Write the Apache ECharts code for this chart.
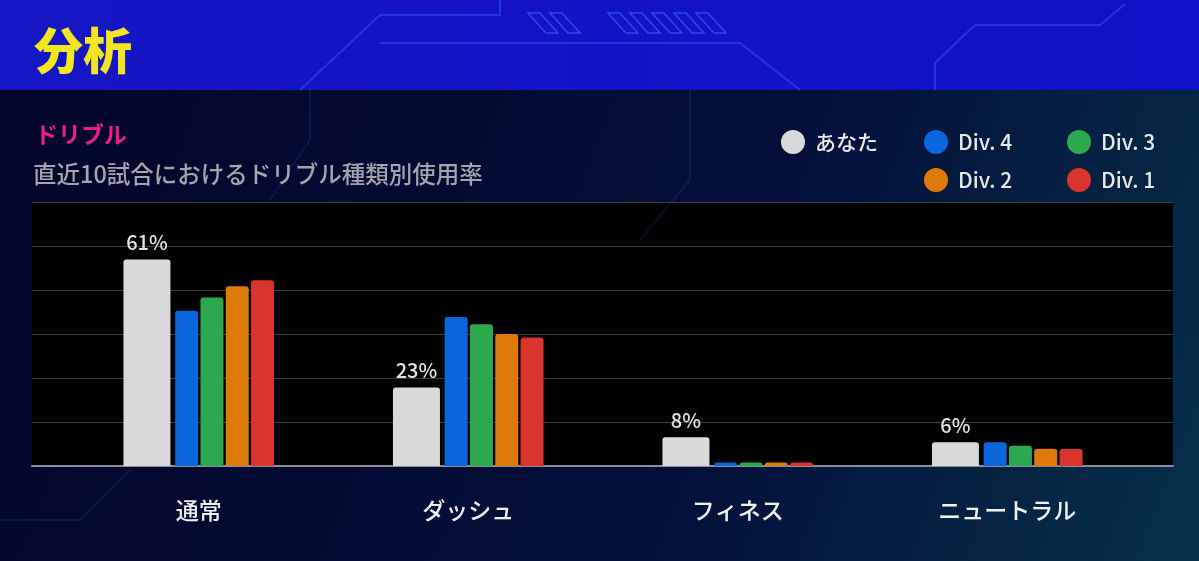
<!DOCTYPE html>
<html lang="ja" style="height: 100%">
<head>
    <meta charset="UTF-8">
    <title>分析 - ドリブル</title>
</head>
<body style="height: 100%; margin: 0">
<div id="container" style="width: 1199px; height: 561px"></div>
<script src="https://cdn.jsdelivr.net/npm/echarts/dist/echarts.min.js"></script>
<script>
    // 値（%）は画像から読み取り
    var categories = ['通常', 'ダッシュ', 'フィネス', 'ニュートラル'];
    var seriesNames = ['あなた', 'Div. 4', 'Div. 3', 'Div. 2', 'Div. 1'];
    var youValues = [61, 23.2, 8.5, 7];
    var youLabels = ['61%', '23%', '8%', '6%'];
    var div4Values = [45.9, 44, 1, 7];
    var div3Values = [49.8, 41.9, 1, 6];
    var div2Values = [53.1, 39, 1, 5.1];
    var div1Values = [54.9, 38, 1, 5];
    var barColors = ['#d9d9d9', '#0a66dd', '#2ca84e', '#dd7a0a', '#d9352c'];

    var font = '"Noto Sans CJK JP", "Noto Sans", sans-serif';
    var chart = echarts.init(document.getElementById('container'));

    function bar(idx, values, width) {
        var s = {
            name: seriesNames[idx],
            type: 'bar',
            xAxisIndex: 1,
            yAxisIndex: 1,
            data: values,
            barWidth: width,
            barGap: '10%',
            itemStyle: {color: barColors[idx], borderRadius: [3, 3, 0, 0]}
        };
        if (idx === 0) {
            s.label = {
                show: true,
                position: 'top',
                distance: 7,
                color: '#e2e2e2',
                fontSize: 20,
                fontWeight: 500,
                fontFamily: font,
                formatter: function (p) { return youLabels[p.dataIndex]; }
            };
        }
        return s;
    }

    // 凡例：1項目ずつ位置指定（円の中心座標）
    var legendPos = [[788, 137], [931, 137], [1074, 137], [931, 175], [1074, 175]];
    var legends = seriesNames.map(function (name, i) {
        return {
            data: [name],
            left: legendPos[i][0] - 12,
            top: legendPos[i][1] - 12,
            icon: 'circle',
            itemWidth: 24, itemHeight: 24,
            textStyle: {color: '#e8e8e8', fontSize: 21, fontWeight: 500, fontFamily: font, padding: [0, 0, 0, 5]}
        };
    });

    // 背景の回路っぽい線
    var circuitTop = [
        [[380, 43], [740, 43], [800, 90]],
        [[300, 90], [380, 15], [500, 15], [500, 0]],
        [[935, 90], [935, 63], [975, 25], [1100, 25], [1125, 4]]
    ];
    var circuitLow = [
        [[690, 90], [690, 180], [640, 240]],
        [[0, 520], [80, 520], [130, 470]],
        [[310, 90], [310, 140], [270, 200]]
    ];
    var decor = circuitTop.map(function (pts) {
        return {
            type: 'polyline', silent: true,
            shape: {points: pts},
            style: {stroke: 'rgba(60,120,255,0.35)', lineWidth: 2, fill: null}
        };
    }).concat(circuitLow.map(function (pts) {
        return {
            type: 'polyline', silent: true,
            shape: {points: pts},
            style: {stroke: 'rgba(60,120,255,0.12)', lineWidth: 2, fill: null}
        };
    }));
    for (var i = 0; i < 7; i++) {
        var x0 = 528 + (i < 2 ? i * 22 : 80 + (i - 2) * 22);
        decor.push({
            type: 'polygon', silent: true,
            shape: {points: [[x0, 13], [x0 + 12, 13], [x0 + 30, 33], [x0 + 18, 33]]},
            style: {stroke: 'rgba(70,130,255,0.5)', lineWidth: 1.5, fill: null}
        });
    }

    var option = {
        backgroundColor: '#050a2e',
        graphic: [
            {
                type: 'rect', z: -10, silent: true,
                shape: {x: 0, y: 90, width: 1199, height: 471},
                style: {
                    fill: new echarts.graphic.LinearGradient(0, 0, 1, 1, [
                        {offset: 0, color: '#03052a'},
                        {offset: 0.6, color: '#04103a'},
                        {offset: 1, color: '#06304a'}
                    ])
                }
            },
            {
                type: 'rect', z: -10, silent: true,
                shape: {x: 0, y: 0, width: 1199, height: 90},
                style: {
                    fill: new echarts.graphic.LinearGradient(0, 0, 1, 0, [
                        {offset: 0, color: '#1616c4'},
                        {offset: 1, color: '#1010c8'}
                    ])
                }
            },
            {type: 'group', z: -5, children: decor},
            {
                type: 'text', left: 34, top: 26,
                style: {text: '分析', fill: '#f2e61e', font: '900 49px ' + font}
            },
            {
                type: 'text', left: 35, top: 123,
                style: {text: 'ドリブル', fill: '#e8207e', font: 'bold 23px ' + font}
            },
            {
                type: 'text', left: 33, top: 162,
                style: {text: '直近10試合におけるドリブル種類別使用率', fill: '#a4a4ac', font: '500 23.5px ' + font}
            }
        ],
        legend: legends,
        grid: [
            {left: 32, right: 26, top: 202, bottom: 95, show: true, backgroundColor: '#000', borderWidth: 0},
            {left: 64, right: 57, top: 202, bottom: 95}
        ],
        xAxis: [
            {
                type: 'category', gridIndex: 0, data: categories,
                axisLine: {lineStyle: {color: '#8c8c9c', width: 2}},
                axisTick: {show: false}, axisLabel: {show: false}
            },
            {
                type: 'category', gridIndex: 1, data: categories,
                axisLine: {show: false}, axisTick: {show: false},
                axisLabel: {color: '#f0f0f0', fontSize: 23, fontWeight: 500, fontFamily: font, margin: 33}
            }
        ],
        yAxis: [
            {
                type: 'value', gridIndex: 0, min: 0, max: 78, interval: 13,
                axisLabel: {show: false}, axisLine: {show: false}, axisTick: {show: false},
                splitLine: {lineStyle: {color: '#3a3a3a', width: 1}}
            },
            {
                type: 'value', gridIndex: 1, min: 0, max: 78, interval: 13,
                show: false
            }
        ],
        series: [
            bar(0, youValues, 47),
            bar(1, div4Values, 23),
            bar(2, div3Values, 23),
            bar(3, div2Values, 23),
            bar(4, div1Values, 23)
        ]
    };

    chart.setOption(option);
</script>
</body>
</html>
